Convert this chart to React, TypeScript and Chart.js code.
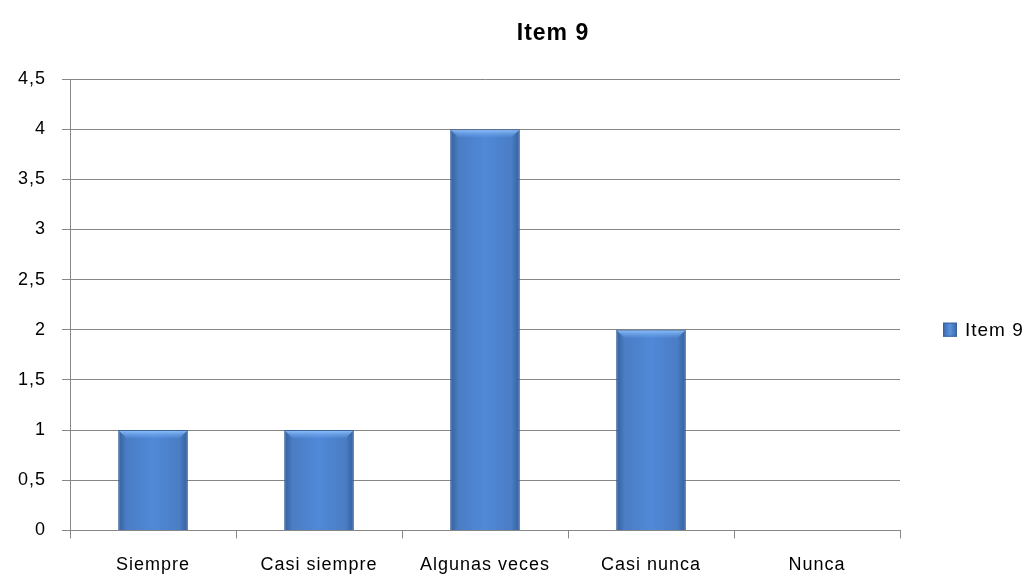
import React, { useEffect, useRef } from "react";
import { Chart, registerables } from "chart.js";

Chart.register(...registerables);

const categories = ["Siempre", "Casi siempre", "Algunas veces", "Casi nunca", "Nunca"];
const seriesName = "Item 9";
const values = [1, 1, 4, 2, 0];
const titleText = "Item 9";

const FONT = "'Liberation Sans', 'DejaVu Sans', sans-serif";
const BAR_FILL = "#4a7ebf";
const BAR_EDGE = "#3a6399";

const spacingPlugin = {
  id: "spacing",
  beforeInit(chart: any) {
    (chart.ctx as any).letterSpacing = "1px";
  },
  beforeUpdate(chart: any) {
    (chart.ctx as any).letterSpacing = "1px";
  },
  beforeDraw(chart: any) {
    (chart.ctx as any).letterSpacing = "1px";
  },
};

const bevelPlugin = {
  id: "bevel",
  afterDatasetsDraw(chart: any) {
    const ctx = chart.ctx;
    const meta = chart.getDatasetMeta(0);
    ctx.save();
    meta.data.forEach((bar: any) => {
      const h = bar.base - bar.y;
      if (!(h > 4)) return;
      const left = bar.x - bar.width / 2 + 1;
      const right = bar.x + bar.width / 2 - 1;
      const top = bar.y + 1;
      const d = 7;
      const g = ctx.createLinearGradient(0, top, 0, top + d);
      g.addColorStop(0, "rgba(140,190,250,0.95)");
      g.addColorStop(1, "rgba(100,160,235,0.2)");
      ctx.fillStyle = g;
      ctx.beginPath();
      ctx.moveTo(left, top);
      ctx.lineTo(right, top);
      ctx.lineTo(right - d, top + d);
      ctx.lineTo(left + d, top + d);
      ctx.closePath();
      ctx.fill();
    });
    ctx.restore();
  },
};

const titleLegendPlugin = {
  id: "titleLegend",
  afterDraw(chart: any) {
    const ctx = chart.ctx;
    ctx.save();
    ctx.fillStyle = "#000";
    ctx.font = `bold 23px ${FONT}`;
    ctx.textBaseline = "middle";
    ctx.textAlign = "center";
    ctx.fillText(titleText, 553, 34);
    const area = chart.chartArea;
    const cy = (area.top + area.bottom) / 2 + 25;
    const x = 943;
    const g = ctx.createLinearGradient(x, 0, x + 14, 0);
    g.addColorStop(0, "#3a67a6");
    g.addColorStop(0.5, "#5b93dd");
    g.addColorStop(1, "#3a67a6");
    ctx.fillStyle = g;
    ctx.fillRect(x, cy - 7, 14, 14);
    ctx.strokeStyle = BAR_EDGE;
    ctx.lineWidth = 1;
    ctx.strokeRect(x + 0.5, cy - 6.5, 13, 13);
    ctx.fillStyle = "#000";
    ctx.font = `19px ${FONT}`;
    ctx.textAlign = "left";
    ctx.fillText(seriesName, x + 22, cy + 1);
    ctx.restore();
  },
};

export default function App() {
  const ref = useRef<HTMLCanvasElement | null>(null);
  useEffect(() => {
    document.body.style.margin = "0";
    const canvas = ref.current!;
    const chart = new Chart(canvas, {
      type: "bar",
      data: {
        labels: categories,
        datasets: [
          {
            label: seriesName,
            data: values,
            backgroundColor: (ctx: any) => {
              const c = ctx.chart;
              const xs = c.scales?.x;
              if (!xs || ctx.type !== "data" || !c.chartArea) return BAR_FILL;
              const cx = xs.getPixelForValue(ctx.dataIndex);
              const w = (xs.width / categories.length) * 0.42;
              if (!isFinite(cx) || !isFinite(w) || w <= 0) return BAR_FILL;
              const g = c.ctx.createLinearGradient(cx - w / 2, 0, cx + w / 2, 0);
              g.addColorStop(0, "#33609e");
              g.addColorStop(0.12, "#4a7dc4");
              g.addColorStop(0.5, "#5089d8");
              g.addColorStop(0.88, "#4a7dc4");
              g.addColorStop(1, "#33609e");
              return g;
            },
            borderColor: BAR_EDGE,
            borderWidth: 1,
            categoryPercentage: 0.42,
            barPercentage: 1,
          },
        ],
      },
      plugins: [spacingPlugin, bevelPlugin, titleLegendPlugin],
      options: {
        animation: false,
        responsive: false,
        maintainAspectRatio: false,
        layout: { padding: { top: 79, left: 2, right: 136, bottom: -14 } },
        plugins: {
          title: { display: false },
          legend: { display: false },
          tooltip: { enabled: false },
        },
        scales: {
          x: {
            grid: {
              offset: true,
              drawOnChartArea: false,
              drawTicks: true,
              tickLength: 8,
              color: "#868686",
            },
            border: { color: "#868686", width: 1 },
            ticks: {
              color: "#000",
              font: { family: FONT, size: 18 },
              padding: 16,
              maxRotation: 0,
            },
          },
          y: {
            min: 0,
            max: 4.5,
            grid: {
              color: "#868686",
              drawTicks: true,
              tickLength: 8,
            },
            border: { color: "#868686", width: 1 },
            ticks: {
              stepSize: 0.5,
              color: "#000",
              font: { family: FONT, size: 18 },
              padding: 16,
              callback: (v: any) => String(v).replace(".", ","),
            },
          },
        },
      },
    } as any);
    return () => chart.destroy();
  }, []);
  return (
    <div style={{ position: "absolute", left: 0, top: 0, width: 1036, height: 578 }}>
      <canvas ref={ref} width={1036} height={578} style={{ width: 1036, height: 578 }} />
    </div>
  );
}
